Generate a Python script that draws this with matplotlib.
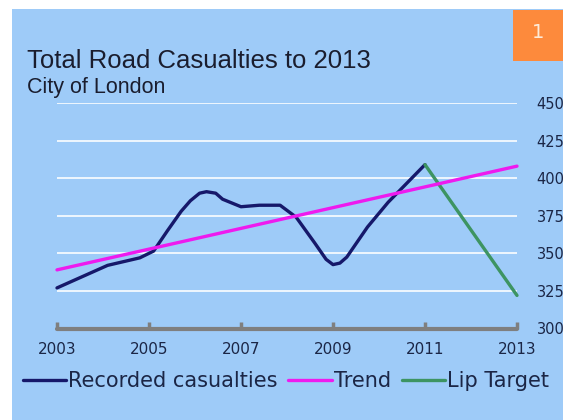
import matplotlib.pyplot as plt
from matplotlib.patches import Rectangle

# recorded casualties
rec_years = [2003.0, 2004.1, 2004.8, 2005.1, 2005.4, 2005.7, 2005.9, 2006.1, 2006.25,
             2006.45, 2006.6, 2007.0, 2007.4, 2007.85, 2008.2, 2008.6, 2008.85,
             2009.0, 2009.15, 2009.3, 2009.75, 2010.2, 2011.0]
rec_vals = [327, 342, 347, 351.5, 365, 378, 385, 390, 391,
            390, 386, 381, 382, 382, 374, 357, 346,
            342.5, 343.5, 347.5, 367.5, 384, 409]

trend_years = [2003, 2013]
trend_vals = [339, 408]

target_years = [2011, 2013]
target_vals = [409, 322]

xticks = [2003, 2005, 2007, 2009, 2011, 2013]
yticks = [300, 325, 350, 375, 400, 425, 450]

bg = '#9ecbf8'
navy = '#16186a'
pink = '#ee1aee'
green = '#3d9462'
grey = '#7f7f7f'
txt = '#1b2646'

fig = plt.figure(figsize=(5.63, 4.2), dpi=100)
fig.patch.set_facecolor('white')
fig.patches.append(Rectangle((12/563, 0), 1, 1 - 9/420, transform=fig.transFigure,
                             facecolor=bg, edgecolor='none', zorder=-10))
fig.patches.append(Rectangle((513/563, 1 - 61/420), 50/563, 51/420, transform=fig.transFigure,
                             facecolor='#fd8a3c', edgecolor='none', zorder=-5))
fig.text(538/563, 1 - 33/420, '1', color='#fdebd9', fontsize=14, ha='center', va='center',
         family='DejaVu Sans')

ax = fig.add_axes([57/563, 1 - 328.5/420, 460/563, 225.5/420])
ax.set_facecolor('none')
ax.set_zorder(2)

ax.plot(rec_years, rec_vals, color=navy, lw=2.4, solid_capstyle='round',
        solid_joinstyle='round', clip_on=False, label='Recorded casualties', zorder=3)
ax.plot(trend_years, trend_vals, color=pink, lw=2.4, solid_capstyle='round', clip_on=False,
        label='Trend', zorder=4)
ax.plot(target_years, target_vals, color=green, lw=2.4, solid_capstyle='round', clip_on=False,
        label='Lip Target', zorder=3)

ax.set_xlim(2003, 2013)
ax.set_ylim(300, 450)
ax.set_xticks(xticks)
ax.set_yticks(yticks)
ax.yaxis.tick_right()
ax.grid(axis='y', color='white', lw=1.3, alpha=0.9)
ax.set_axisbelow(True)
for s in ['top', 'left', 'right']:
    ax.spines[s].set_visible(False)
ax.spines['bottom'].set_color(grey)
ax.spines['bottom'].set_linewidth(3)
ax.spines['bottom'].set_capstyle('round')
ax.spines['bottom'].set_zorder(5)
ax.tick_params(axis='x', direction='in', length=5, width=2.5, color=grey, pad=10,
               labelsize=11, labelcolor=txt)
ax.tick_params(axis='y', length=0, pad=14, labelsize=10.5, labelcolor=txt)
for lab in ax.get_yticklabels():
    lab.set_horizontalalignment('left')

fig.text(27/563, 1 - 68/420, 'Total Road Casualties to 2013', family='Liberation Sans',
         fontsize=18.5, color='#1a1d2e', va='baseline')
fig.text(27/563, 1 - 93/420, 'City of London', family='Liberation Sans',
         fontsize=15.5, color='#1a1d2e', va='baseline')

fig.legend(loc='center', bbox_to_anchor=(286/563, 1 - 381/420), ncol=3, frameon=False,
           fontsize=15, handlelength=2.1, handletextpad=0.1, columnspacing=0.5,
           labelcolor=txt)

fig.savefig('out.png', dpi=100)
